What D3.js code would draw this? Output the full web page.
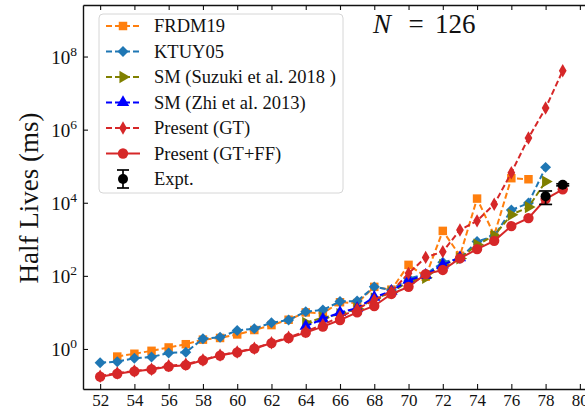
<!DOCTYPE html>
<html>
<head>
<meta charset="utf-8">
<script src="https://cdn.jsdelivr.net/npm/d3@7"></script>
<style>
  body { margin: 0; background: #fff; }
  svg { display: block; }
  text { font-family: "Liberation Serif", "DejaVu Serif", serif; fill: #111; }
</style>
</head>
<body>
<svg width="585" height="411"></svg>
<script>
// half lives in ms
var zFRDM = d3.range(53, 78)
var frdm19 = [0.62, 0.74, 0.89, 1.1, 1.35, 1.8, 2.0, 2.5, 3.3, 4.5, 6.3, 10, 9.5, 19, 18, 50, 42,
              200, 95, 1700, 355, 13000, 1300, 47000, 44000]

var zKTUY = d3.range(52, 79)
var ktuy05 = [0.42, 0.45, 0.56, 0.60, 0.78, 0.81, 1.9, 2.1, 3.2, 3.6, 5.2, 6.2, 10.5, 11.7, 20, 20.4,
              50, 41, 85, 112, 235, 300, 870, 1230, 6300, 9800, 93000]

var zSuzuki = d3.range(64, 79)
var smSuzuki = [5.2, 7.2, 8.9, 12.6, 24, 35, 71, 89, 200, 300, 710, 1260, 4700, 7600, 38000]

var zZhi = d3.range(64, 74)
var smZhi = [4.2, 6.6, 10, 13, 26, 38, 76, 105, 200, 316]

var zPresent = d3.range(52, 80)
var presentGT = [0.18, 0.22, 0.25, 0.28, 0.35, 0.38, 0.50, 0.68, 0.83, 1.05, 1.48, 2.1, 3.0, 4.6,
                 7.6, 12.3, 22, 37, 117, 320, 460, 1800, 3200, 9100, 66000, 590000, 3.9e6, 4.1e7]
var presentGTFF = [0.175, 0.21, 0.245, 0.275, 0.33, 0.36, 0.49, 0.66, 0.81, 1.02, 1.45, 2.0, 2.8,
                   4.1, 6.2, 10, 15, 32, 50, 112, 145, 300, 540, 910, 2300, 3800, 12600, 23400]

var zExpt = [78, 79]
var expt = [15000, 31000]
var exptErr = [6000, 2000]

var xTicks = d3.range(52, 81, 2)
var yTicks = [1, 1e2, 1e4, 1e6, 1e8]

var svg = d3.select('svg')
var padL = 83, padR = 597, padT = 5, padB = 389

var xScale = d3.scaleLinear().domain([51, 81]).range([padL, padR])
var yScale = d3.scaleLog().domain([Math.pow(10, -1.095), Math.pow(10, 9.41)]).range([padB, padT])

var red = '#d62728'

// marker shapes
var sq = d3.symbol().type(d3.symbolSquare).size(72)()
var dia = d3.symbol().type(d3.symbolSquare).size(60)()
var thin = d3.symbol().type(d3.symbolDiamond).size(52)()
var tri = d3.symbol().type(d3.symbolTriangle).size(66)()
var circ = d3.symbol().type(d3.symbolCircle).size(84)()

var series = [
  {name: 'FRDM19', z: zFRDM, v: frdm19, color: '#ff7f0e', dash: '6,3', path: sq, rot: 0},
  {name: 'KTUY05', z: zKTUY, v: ktuy05, color: '#1f77b4', dash: '6,3', path: dia, rot: 45},
  {name: 'SM (Suzuki et al. 2018 )', z: zSuzuki, v: smSuzuki, color: '#808000', dash: '6,3', path: tri, rot: 90},
  {name: 'SM (Zhi et al. 2013)', z: zZhi, v: smZhi, color: '#0000ff', dash: '6,3', path: tri, rot: 0},
  {name: 'Present (GT)', z: zPresent, v: presentGT, color: red, dash: '6,3', path: thin, rot: 0},
  {name: 'Present (GT+FF)', z: zPresent, v: presentGTFF, color: red, dash: null, path: circ, rot: 0}
]

var line = d3.line()
  .x(d => xScale(d[0]))
  .y(d => yScale(d[1]))

var plot = svg.append('g')

series.forEach(function (s) {
  var pts = s.z.map((z, i) => [z, s.v[i]])
  var g = plot.append('g')
  g.append('path')
   .attr('d', line(pts))
   .attr('fill', 'none')
   .attr('stroke', s.color)
   .attr('stroke-width', 2)
   .attr('stroke-dasharray', s.dash)
  g.selectAll('.m')
   .data(pts)
   .enter()
   .append('path')
   .attr('class', 'm')
   .attr('d', s.path)
   .attr('fill', s.color)
   .attr('transform', d => `translate(${xScale(d[0])},${yScale(d[1])}) rotate(${s.rot})`)
})

// experiment with error bars
var ex = zExpt.map((z, i) => ({z: z, v: expt[i], e: exptErr[i]}))
var exG = plot.selectAll('.expt').data(ex).enter().append('g').attr('class', 'expt')
exG.append('line')
   .attr('x1', d => xScale(d.z)).attr('x2', d => xScale(d.z))
   .attr('y1', d => yScale(d.v - d.e)).attr('y2', d => yScale(d.v + d.e))
   .attr('stroke', '#000').attr('stroke-width', 1.7)
;[-1, 1].forEach(function (sign) {
  exG.append('line')
     .attr('x1', d => xScale(d.z) - 6.5).attr('x2', d => xScale(d.z) + 6.5)
     .attr('y1', d => yScale(d.v + sign * d.e)).attr('y2', d => yScale(d.v + sign * d.e))
     .attr('stroke', '#000').attr('stroke-width', 1.7)
})
exG.append('circle')
   .attr('cx', d => xScale(d.z)).attr('cy', d => yScale(d.v))
   .attr('r', 5).attr('fill', '#000')

// axes, ticks inward on all sides
svg.append('g')
   .attr('transform', `translate(0,${padB})`)
   .call(d3.axisBottom(xScale).tickValues(xTicks).tickSizeInner(-5).tickSizeOuter(0).tickPadding(5))
svg.append('g')
   .attr('transform', `translate(0,${padT})`)
   .call(d3.axisTop(xScale).tickValues(xTicks).tickSizeInner(-5).tickSizeOuter(0).tickFormat(''))
svg.append('g')
   .attr('transform', `translate(${padL},0)`)
   .call(d3.axisLeft(yScale).tickValues(yTicks).tickSizeInner(-5).tickSizeOuter(0).tickFormat(''))

svg.selectAll('.domain').attr('stroke', '#111').attr('stroke-width', 1.4)
svg.selectAll('.tick line').attr('stroke', '#111').attr('stroke-width', 1.1)
svg.selectAll('.tick text').attr('font-size', 17).attr('font-family', '"Liberation Serif", serif').attr('fill', '#111')

// 10^n labels
var yl = svg.append('g')
yTicks.forEach(function (t) {
  var txt = yl.append('text')
    .attr('x', 77)
    .attr('y', yScale(t) + 7)
    .attr('text-anchor', 'end')
    .attr('font-size', 19)
  txt.append('tspan').text('10')
  txt.append('tspan').attr('dy', -8).attr('font-size', 13.5).text(Math.round(Math.log10(t)))
})

svg.append('text')
   .attr('transform', 'translate(38,198) rotate(-90)')
   .attr('text-anchor', 'middle')
   .attr('font-size', 27)
   .text('Half Lives (ms)')

// title
svg.append('text').attr('x', 373).attr('y', 33).attr('font-size', 27).attr('font-style', 'italic').text('N')
svg.append('text').attr('x', 416).attr('y', 33).attr('font-size', 27).attr('text-anchor', 'middle').text('=')
svg.append('text').attr('x', 435).attr('y', 33).attr('font-size', 27).text('126')

// legend
var leg = svg.append('g')
leg.append('rect')
   .attr('x', 99).attr('y', 14).attr('width', 244).attr('height', 179).attr('rx', 4)
   .attr('fill', '#fff').attr('fill-opacity', 0.8)
   .attr('stroke', '#d6d6d6').attr('stroke-width', 1)

var legY = d3.scaleLinear().domain([0, 6]).range([26, 179])
series.forEach(function (s, i) {
  var y = legY(i)
  leg.append('line')
     .attr('x1', 106).attr('x2', 140).attr('y1', y).attr('y2', y)
     .attr('stroke', s.color).attr('stroke-width', 2).attr('stroke-dasharray', s.dash)
  leg.append('path')
     .attr('d', s.path).attr('fill', s.color)
     .attr('transform', `translate(123,${y}) rotate(${s.rot})`)
  leg.append('text').attr('x', 154).attr('y', y + 6).attr('font-size', 18.5).text(s.name)
})
var ey = legY(6)
leg.append('line').attr('x1', 123).attr('x2', 123).attr('y1', ey - 9).attr('y2', ey + 9)
   .attr('stroke', '#000').attr('stroke-width', 1.7)
leg.append('line').attr('x1', 117).attr('x2', 129).attr('y1', ey - 9).attr('y2', ey - 9)
   .attr('stroke', '#000').attr('stroke-width', 1.7)
leg.append('line').attr('x1', 117).attr('x2', 129).attr('y1', ey + 9).attr('y2', ey + 9)
   .attr('stroke', '#000').attr('stroke-width', 1.7)
leg.append('circle').attr('cx', 123).attr('cy', ey).attr('r', 5).attr('fill', '#000')
leg.append('text').attr('x', 154).attr('y', ey + 6).attr('font-size', 18.5).text('Expt.')
</script>
</body>
</html>
